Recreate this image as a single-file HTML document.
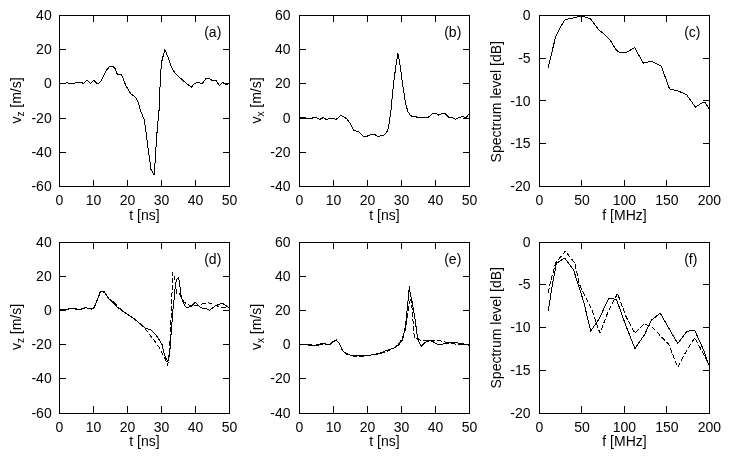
<!DOCTYPE html>
<html><head><meta charset="utf-8"><title>Figure</title>
<style>
html,body{margin:0;padding:0;background:#fff;}
body{width:730px;height:459px;overflow:hidden;}
svg{display:block;}
text{font-family:"Liberation Sans",sans-serif;font-size:14px;fill:#000;}
.ax{stroke:#000;stroke-width:1;fill:none;shape-rendering:crispEdges;}
.cv{stroke:#000;stroke-width:1;fill:none;stroke-linejoin:round;shape-rendering:crispEdges;}
.tk{fill:#000;stroke:none;shape-rendering:crispEdges;}
.ds{stroke-dasharray:5 2;}
.sub{font-size:10px;}
</style></head><body>
<svg width="730" height="459" viewBox="0 0 730 459">
<rect width="730" height="459" fill="#fff"/>
<g>
<rect class="ax" x="59.5" y="15.5" width="170" height="171"/>
<path class="tk" d="M93 187h1v-7h-1z M93 15h1v7h-1z M127 187h1v-7h-1z M127 15h1v7h-1z M161 187h1v-7h-1z M161 15h1v7h-1z M195 187h1v-7h-1z M195 15h1v7h-1z M59 49h7v1h-7z M230 49h-7v1h7z M59 83h7v1h-7z M230 83h-7v1h7z M59 118h7v1h-7z M230 118h-7v1h7z M59 152h7v1h-7z M230 152h-7v1h7z"/>
<text x="59.5" y="205" text-anchor="middle">0</text>
<text x="93.5" y="205" text-anchor="middle">10</text>
<text x="127.5" y="205" text-anchor="middle">20</text>
<text x="161.5" y="205" text-anchor="middle">30</text>
<text x="195.5" y="205" text-anchor="middle">40</text>
<text x="229.5" y="205" text-anchor="middle">50</text>
<text x="51.7" y="20.05" text-anchor="end">40</text>
<text x="51.7" y="54.25" text-anchor="end">20</text>
<text x="51.7" y="88.45" text-anchor="end">0</text>
<text x="51.7" y="122.65" text-anchor="end">-20</text>
<text x="51.7" y="156.85" text-anchor="end">-40</text>
<text x="51.7" y="191.05" text-anchor="end">-60</text>
<text x="144.5" y="219.55" text-anchor="middle">t [ns]</text>
<text transform="translate(21.2 100.5) rotate(-90)" text-anchor="middle">v<tspan class="sub" dy="3">z</tspan><tspan dy="-3"> [m/s]</tspan></text>
<text x="204.2" y="36.95">(a)</text>
<polyline class="cv" points="59.9,83.3 65.5,83.3 66.7,82.3 68.6,83.3 74.7,83.3 76,82.4 81.5,82.4 83.4,83.5 86.8,80 90.8,83.5 93.5,80.2 96.9,83.3 98.8,83.3 101.2,80.8 105.5,71.6 109.9,66 112.3,66 115.2,68.7 117.3,74.2 121,74.4 122.8,77.7 125.9,85.8 130.8,93.8 134.5,96.2 137.6,100.5 140.6,110.7 144.5,120.5 147.5,144 151,169.5 154.3,175 155.3,157.7 157.3,128.3 159.2,108.7 159.8,91.9 160.6,73.6 161.8,61.4 164.8,49.5 167.9,56.8 171.7,67.5 174.7,72.8 182.4,80 188.5,85 191.5,87.3 193.8,84.2 197.6,82.3 202.2,83.5 206,78.4 209,78.4 212.1,80.4 215.9,80.4 219.4,85.5 222.5,82.4 226.6,85 228.9,83.5"/>
</g>
<g>
<rect class="ax" x="299.5" y="15.5" width="170" height="171"/>
<path class="tk" d="M333 187h1v-7h-1z M333 15h1v7h-1z M367 187h1v-7h-1z M367 15h1v7h-1z M401 187h1v-7h-1z M401 15h1v7h-1z M435 187h1v-7h-1z M435 15h1v7h-1z M299 49h7v1h-7z M470 49h-7v1h7z M299 83h7v1h-7z M470 83h-7v1h7z M299 118h7v1h-7z M470 118h-7v1h7z M299 152h7v1h-7z M470 152h-7v1h7z"/>
<text x="299.5" y="205" text-anchor="middle">0</text>
<text x="333.5" y="205" text-anchor="middle">10</text>
<text x="367.5" y="205" text-anchor="middle">20</text>
<text x="401.5" y="205" text-anchor="middle">30</text>
<text x="435.5" y="205" text-anchor="middle">40</text>
<text x="469.5" y="205" text-anchor="middle">50</text>
<text x="290.6" y="20.05" text-anchor="end">60</text>
<text x="290.6" y="54.25" text-anchor="end">40</text>
<text x="290.6" y="88.45" text-anchor="end">20</text>
<text x="290.6" y="122.65" text-anchor="end">0</text>
<text x="290.6" y="156.85" text-anchor="end">-20</text>
<text x="290.6" y="191.05" text-anchor="end">-40</text>
<text x="384.5" y="219.55" text-anchor="middle">t [ns]</text>
<text transform="translate(261.2 100.5) rotate(-90)" text-anchor="middle">v<tspan class="sub" dy="3">x</tspan><tspan dy="-3"> [m/s]</tspan></text>
<text x="444.2" y="36.95">(b)</text>
<polyline class="cv" points="299.8,117.5 305.3,117.5 306,118.4 312.1,118.4 313.5,117.4 316.2,117.4 319.7,119.5 323.1,117.7 326.5,119.5 329.2,118.4 334,118.4 336.1,119.5 340.9,115.1 346.4,118.5 349.8,122.9 353.6,130.1 358.7,131.8 363.5,136.6 366.2,136.6 371.7,134.2 374.5,134.2 377.9,136.6 384,134.9 387.5,131.1 388.8,125.6 390.9,111 393.6,83.1 396.2,63.5 397.9,53.3 399.5,61.6 402.5,83.1 405.4,102.7 407.9,111.6 410.7,115.9 415.2,116.5 419.1,118 423,117.3 428.3,117.3 432.8,113.5 435.8,113.5 438.7,115.1 442.6,113.3 445.2,113.7 448.5,117.1 452.5,117.6 455.4,119.2 459.3,117.6 463.2,116.5 465.6,117.8 467.5,115.9 469,114.1"/>
</g>
<g>
<rect class="ax" x="539.5" y="15.5" width="170" height="171"/>
<path class="tk" d="M581 187h1v-7h-1z M581 15h1v7h-1z M624 187h1v-7h-1z M624 15h1v7h-1z M666 187h1v-7h-1z M666 15h1v7h-1z M539 58h7v1h-7z M710 58h-7v1h7z M539 100h7v1h-7z M710 100h-7v1h7z M539 143h7v1h-7z M710 143h-7v1h7z"/>
<text x="539.45" y="205" text-anchor="middle">0</text>
<text x="581.95" y="205" text-anchor="middle">50</text>
<text x="624.45" y="205" text-anchor="middle">100</text>
<text x="666.95" y="205" text-anchor="middle">150</text>
<text x="709.45" y="205" text-anchor="middle">200</text>
<text x="530.6" y="20.05" text-anchor="end">0</text>
<text x="530.6" y="62.8" text-anchor="end">-5</text>
<text x="530.6" y="105.55" text-anchor="end">-10</text>
<text x="530.6" y="148.3" text-anchor="end">-15</text>
<text x="530.6" y="191.05" text-anchor="end">-20</text>
<text x="624.5" y="219.55" text-anchor="middle">f [MHz]</text>
<text transform="translate(501.2 101.7) rotate(-90)" text-anchor="middle">Spectrum level [dB]</text>
<text x="684.2" y="36.95">(c)</text>
<polyline class="cv" points="548.3,67.5 550.8,56.6 555.5,37.4 560.3,27.1 565.1,19.6 570.6,18.5 581.6,15.8 590.5,18.9 598.7,29.9 604.9,34.7 610.3,40.4 616.5,50.4 619.9,52.5 625.4,52.9 634.6,47.6 643.4,63.3 651.3,61 661.1,65.9 669.5,88.8 677.7,90.8 686.6,94.7 695.4,107.1 703.2,102.2 705.2,102.2 709.5,110"/>
</g>
<g>
<rect class="ax" x="59.5" y="242.5" width="170" height="171"/>
<path class="tk" d="M93 414h1v-8h-1z M93 242h1v7h-1z M127 414h1v-8h-1z M127 242h1v7h-1z M161 414h1v-8h-1z M161 242h1v7h-1z M195 414h1v-8h-1z M195 242h1v7h-1z M59 276h7v1h-7z M230 276h-7v1h7z M59 310h7v1h-7z M230 310h-7v1h7z M59 344h7v1h-7z M230 344h-7v1h7z M59 378h7v1h-7z M230 378h-7v1h7z"/>
<text x="59.5" y="431.65" text-anchor="middle">0</text>
<text x="93.5" y="431.65" text-anchor="middle">10</text>
<text x="127.5" y="431.65" text-anchor="middle">20</text>
<text x="161.5" y="431.65" text-anchor="middle">30</text>
<text x="195.5" y="431.65" text-anchor="middle">40</text>
<text x="229.5" y="431.65" text-anchor="middle">50</text>
<text x="51.7" y="246.5" text-anchor="end">40</text>
<text x="51.7" y="280.7" text-anchor="end">20</text>
<text x="51.7" y="314.9" text-anchor="end">0</text>
<text x="51.7" y="349.1" text-anchor="end">-20</text>
<text x="51.7" y="383.3" text-anchor="end">-40</text>
<text x="51.7" y="417.5" text-anchor="end">-60</text>
<text x="144.5" y="446.2" text-anchor="middle">t [ns]</text>
<text transform="translate(21.2 327) rotate(-90)" text-anchor="middle">v<tspan class="sub" dy="3">z</tspan><tspan dy="-3"> [m/s]</tspan></text>
<text x="204.2" y="263.6">(d)</text>
<polyline class="cv" points="59.9,310 67.3,309.2 73.5,308.1 79,309.6 84.6,307.7 93.2,308.7 97.5,299.7 100.6,291.7 104.3,291.7 108,297.9 112.9,302.2 117.9,307.7 127.7,314.5 135.1,319.5 144.7,327.8 151.2,330.2 156.1,335.1 161.9,344.1 164.3,353.9 167.6,361.8 169.5,355.5 171.2,332.7 172.8,311.4 174.3,297.7 175.4,284.6 176.5,279.2 178.6,277.5 179.7,284.6 181.4,297.7 183.5,303.2 185.7,307 188.4,307.3 191.7,305.9 195.4,302.3 199.8,306.8 202.4,308.3 205.9,308.5 209.4,310.4 214.6,306.3 219,304.2 222.5,303.3 225.9,305.5 229.4,308.1"/>
<polyline class="cv ds" points="59.9,309.4 66,309.8 70,308.6 73,308 76,309.3 79.5,310.3 83,308.3 88,308.3 92.5,309.3 94,308 97,300.5 100,292.3 104.8,292.3 106,294.5 109,299 113.5,301.6 118,307 128,315 135,319.2 144.7,327.8 148,332.7 154.5,340.8 160.2,349 165.1,358.8 167.6,365.4 168.7,358.8 170,340.8 171.2,316.3 171.8,300 172.6,272.6 174.8,278.1 176.5,293.4 179.7,293.9 181.4,297.7 184.1,302.1 187.6,304.6 191.1,305.9 198.1,305.9 201.6,304.2 205.9,303.1 209,302.9 212.9,304.2 217.2,305.9 221.6,307.5 229.4,307.8"/>
</g>
<g>
<rect class="ax" x="299.5" y="242.5" width="170" height="171"/>
<path class="tk" d="M333 414h1v-8h-1z M333 242h1v7h-1z M367 414h1v-8h-1z M367 242h1v7h-1z M401 414h1v-8h-1z M401 242h1v7h-1z M435 414h1v-8h-1z M435 242h1v7h-1z M299 276h7v1h-7z M470 276h-7v1h7z M299 310h7v1h-7z M470 310h-7v1h7z M299 344h7v1h-7z M470 344h-7v1h7z M299 378h7v1h-7z M470 378h-7v1h7z"/>
<text x="299.5" y="431.65" text-anchor="middle">0</text>
<text x="333.5" y="431.65" text-anchor="middle">10</text>
<text x="367.5" y="431.65" text-anchor="middle">20</text>
<text x="401.5" y="431.65" text-anchor="middle">30</text>
<text x="435.5" y="431.65" text-anchor="middle">40</text>
<text x="469.5" y="431.65" text-anchor="middle">50</text>
<text x="290.6" y="246.5" text-anchor="end">60</text>
<text x="290.6" y="280.7" text-anchor="end">40</text>
<text x="290.6" y="314.9" text-anchor="end">20</text>
<text x="290.6" y="349.1" text-anchor="end">0</text>
<text x="290.6" y="383.3" text-anchor="end">-20</text>
<text x="290.6" y="417.5" text-anchor="end">-40</text>
<text x="384.5" y="446.2" text-anchor="middle">t [ns]</text>
<text transform="translate(261.2 327) rotate(-90)" text-anchor="middle">v<tspan class="sub" dy="3">x</tspan><tspan dy="-3"> [m/s]</tspan></text>
<text x="444.2" y="263.6">(e)</text>
<polyline class="cv" points="299.8,344.4 308.7,344.7 315.5,345.3 321,343.6 329.9,344.4 333.4,341.2 336.1,339.9 338.8,342.6 342.3,350.1 346.4,354 352.5,355.6 362.1,356 371.7,354.9 379.9,353.2 385,351 392.8,348.5 398,345.5 401.1,342 402.9,339 405.5,326 407.8,303.6 409.3,286.3 410.3,294 412,300.5 414.4,315 417.2,335 418.8,342 421.5,346.2 424.7,342.7 429.4,340.6 433,341.7 437.9,344.6 445.8,343.6 453.6,342.1 461.5,343.6 469.3,345.2"/>
<polyline class="cv ds" points="299.8,344.4 307,344.3 309,345.3 314,345 317,345.6 321,344.2 326,343.8 330,344.9 333.4,341.8 336.3,339.6 339,343.2 342.5,350.6 346.4,353.6 352.5,356 362.1,356.5 371.7,355.3 379.9,353.7 385,352.3 394.8,347.5 398,344.8 401.9,338.8 405.1,330.2 407.2,318 409.2,303.6 411.2,297.8 412.6,315 414.1,335 414.8,338.3 418.4,339.6 423.1,340.8 430.1,340.5 437.9,340.3 443.8,341.7 451.7,343.6 459.5,344.6 469.3,344"/>
</g>
<g>
<rect class="ax" x="539.5" y="242.5" width="170" height="171"/>
<path class="tk" d="M581 414h1v-8h-1z M581 242h1v7h-1z M624 414h1v-8h-1z M624 242h1v7h-1z M666 414h1v-8h-1z M666 242h1v7h-1z M539 284h7v1h-7z M710 284h-7v1h7z M539 327h7v1h-7z M710 327h-7v1h7z M539 370h7v1h-7z M710 370h-7v1h7z"/>
<text x="539.45" y="431.65" text-anchor="middle">0</text>
<text x="581.95" y="431.65" text-anchor="middle">50</text>
<text x="624.45" y="431.65" text-anchor="middle">100</text>
<text x="666.95" y="431.65" text-anchor="middle">150</text>
<text x="709.45" y="431.65" text-anchor="middle">200</text>
<text x="530.6" y="246.5" text-anchor="end">0</text>
<text x="530.6" y="289.25" text-anchor="end">-5</text>
<text x="530.6" y="332" text-anchor="end">-10</text>
<text x="530.6" y="374.75" text-anchor="end">-15</text>
<text x="530.6" y="417.5" text-anchor="end">-20</text>
<text x="624.5" y="446.2" text-anchor="middle">f [MHz]</text>
<text transform="translate(501.2 327.8) rotate(-90)" text-anchor="middle">Spectrum level [dB]</text>
<text x="684.2" y="263.6">(f)</text>
<polyline class="cv" points="548.3,310.9 552.3,285.2 556.4,263.3 564.7,258.1 573.6,270.1 583.7,301.8 590.7,331.2 598.9,319.2 608.7,298.5 616.4,299.2 625.1,323.5 634.9,348.6 644.7,334.4 651.2,320.3 660.3,313.1 668.6,327.9 677.8,343.6 687.1,331.2 694.7,330.5 703.5,349.7 708.9,365.3"/>
<polyline class="cv ds" points="548.3,293.1 549.6,285.2 555.8,262.6 565.3,251.2 574.9,263.3 579.4,284.4 591.3,308.3 600,333.3 607.7,312.7 617.5,293.5 626.2,317 634.9,333.3 643.6,324.2 651.2,326.2 668.6,344.2 677.8,367.1 687.1,349.7 694.7,337.7 703.5,354 708.9,365.3"/>
</g>
</svg>
</body></html>
